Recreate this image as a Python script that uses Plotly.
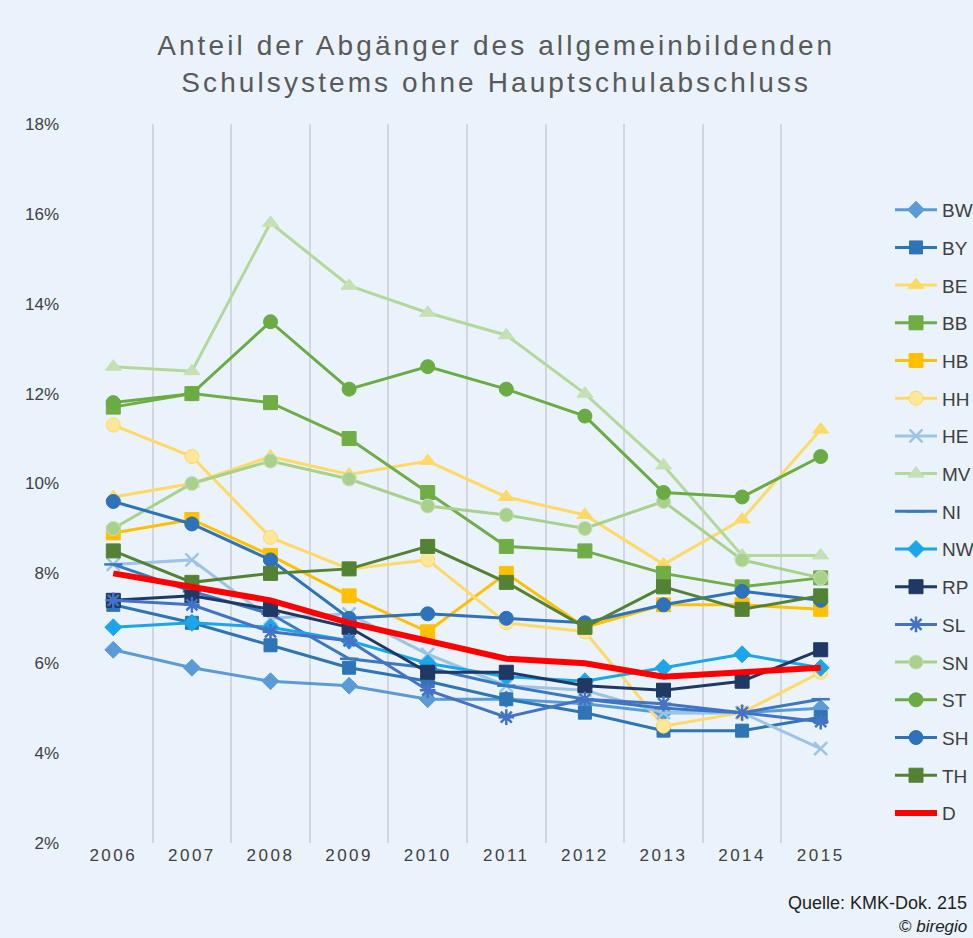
import plotly.graph_objects as go

years = ["2006", "2007", "2008", "2009", "2010", "2011", "2012", "2013", "2014", "2015"]

BW = [6.3, 5.9, 5.6, 5.5, 5.2, 5.2, 5.1, 4.9, 4.9, 5.0]
BY = [7.3, 6.9, 6.4, 5.9, 5.6, 5.2, 4.9, 4.5, 4.5, 4.8]
BE = [9.7, 10.0, 10.6, 10.2, 10.5, 9.7, 9.3, 8.2, 9.2, 11.2]
BB = [11.7, 12.0, 11.8, 11.0, 9.8, 8.6, 8.5, 8.0, 7.7, 7.9]
HB = [8.9, 9.2, 8.4, 7.5, 6.7, 8.0, 6.8, 7.3, 7.3, 7.2]
HH = [11.3, 10.6, 8.8, 8.1, 8.3, 6.9, 6.7, 4.6, 4.9, 5.8]
HE = [8.2, 8.3, 7.0, 7.1, 6.2, 5.5, 5.4, 4.9, 4.9, 4.1]
MV = [12.6, 12.5, 15.8, 14.4, 13.8, 13.3, 12.0, 10.4, 8.4, 8.4]
NI = [8.2, 7.6, 7.1, 6.1, 5.9, 5.5, 5.2, 5.0, 4.9, 5.2]
NW = [6.8, 6.9, 6.8, 6.5, 6.0, 5.7, 5.6, 5.9, 6.2, 5.9]
RP = [7.4, 7.5, 7.2, 6.8, 5.8, 5.8, 5.5, 5.4, 5.6, 6.3]
SL = [7.4, 7.3, 6.7, 6.5, 5.4, 4.8, 5.2, 5.1, 4.9, 4.7]
SN = [9.0, 10.0, 10.5, 10.1, 9.5, 9.3, 9.0, 9.6, 8.3, 7.9]
ST = [11.8, 12.0, 13.6, 12.1, 12.6, 12.1, 11.5, 9.8, 9.7, 10.6]
SH = [9.6, 9.1, 8.3, 7.0, 7.1, 7.0, 6.9, 7.3, 7.6, 7.4]
TH = [8.5, 7.8, 8.0, 8.1, 8.6, 7.8, 6.8, 7.7, 7.2, 7.5]
D = [8.0, 7.7, 7.4, 6.9, 6.5, 6.1, 6.0, 5.7, 5.8, 5.9]

y_ticks = [2, 4, 6, 8, 10, 12, 14, 16, 18]
y_tick_labels = ["2%", "4%", "6%", "8%", "10%", "12%", "14%", "16%", "18%"]

series = [
    # name, values, line colour, marker symbol, marker fill, marker line colour, marker size
    ("BW", BW, "#5B9BD5", "diamond", "#5B9BD5", "#5B9BD5", 13),
    ("BY", BY, "#2E75B6", "square", "#2E75B6", "#2E75B6", 13),
    ("BE", BE, "#FFD966", "triangle-up", "#FFD966", "#FFD966", 14),
    ("BB", BB, "#70AD47", "square", "#70AD47", "#70AD47", 14),
    ("HB", HB, "#FFC000", "square", "#FFC000", "#FFC000", 14),
    ("HH", HH, "#FFD966", "circle", "#FFE699", "#FFD966", 14),
    ("HE", HE, "#9DC3E6", "x-thin", "#9DC3E6", "#9DC3E6", 13),
    ("MV", MV, "#B4D89C", "triangle-up", "#C5E0B4", "#C5E0B4", 14),
    ("NI", NI, "#3A78C0", "line-ew", "#3A78C0", "#3A78C0", 13),
    ("NW", NW, "#1BA6EA", "diamond", "#1BA6EA", "#1BA6EA", 13),
    ("RP", RP, "#1F3864", "square", "#1F3864", "#1F3864", 14),
    ("SL", SL, "#4472C4", "asterisk", "#4472C4", "#4472C4", 13),
    ("SN", SN, "#A9D18E", "circle", "#A9D18E", "#C5E0B4", 14),
    ("ST", ST, "#6AAB44", "circle", "#6AAB44", "#6AAB44", 14),
    ("SH", SH, "#2E72BA", "circle", "#2E72BA", "#2E72BA", 14),
    ("TH", TH, "#548235", "square", "#548235", "#548235", 14),
]

fig = go.Figure()
for name, vals, lc, sym, fill, mlc, ms in series:
    open_sym = sym in ("x-thin", "line-ew", "asterisk")
    fig.add_trace(go.Scatter(
        x=years, y=vals, name=name, legendgroup=name, mode="lines+markers",
        line=dict(color=lc, width=3),
        marker=dict(symbol=sym, size=ms, color=fill,
                    line=dict(color=mlc, width=2.5 if open_sym else 1)),
    ))
fig.add_trace(go.Scatter(
    x=years, y=D, name="D", legendgroup="D", mode="lines",
    line=dict(color="#FF0000", width=6),
))

bg = "#EAF3FB"
fig.update_layout(
    width=973, height=938,
    paper_bgcolor=bg, plot_bgcolor=bg,
    margin=dict(l=74, r=113, t=124, b=95, autoexpand=False),
    font=dict(family="Liberation Sans, Arial, sans-serif", color="#404040"),
    title=dict(
        text="Anteil der Abgänger des allgemeinbildenden<br>Schulsystems ohne Hauptschulabschluss",
        x=0.51, xref="container", xanchor="center",
        y=0.941, yref="container", yanchor="top",
        font=dict(size=28, color="#595959", family="Liberation Sans, Arial, sans-serif"),
    ),
    xaxis=dict(
        type="category", tickson="boundaries", showgrid=True,
        gridcolor="#D3D6DE", gridwidth=1.5, range=[-0.5, 9.5],
        ticks="", showline=False, zeroline=False,
        tickfont=dict(size=17, color="#404040"),
    ),
    yaxis=dict(
        range=[2, 18], tickvals=y_ticks, ticktext=y_tick_labels, showgrid=False,
        zeroline=False, showline=False, ticks="", ticklabelstandoff=14,
        tickfont=dict(size=17, color="#404040"),
    ),
    legend=dict(
        xref="container", x=0.9147, xanchor="left", y=0.907, yanchor="top",
        font=dict(size=19, color="#404040"),
        traceorder="grouped", tracegroupgap=10, itemwidth=42,
        bgcolor="rgba(0,0,0,0)",
    ),
    showlegend=True,
)

fig.add_annotation(
    text="Quelle: KMK-Dok. 215", xref="paper", yref="paper",
    x=1.139, y=-0.0834, xanchor="right", yanchor="middle", showarrow=False,
    font=dict(size=18, color="#222222"),
)
fig.add_annotation(
    text="© <i>biregio</i>", xref="paper", yref="paper",
    x=1.139, y=-0.1168, xanchor="right", yanchor="middle", showarrow=False,
    font=dict(size=17, color="#222222"),
)

post = """
document.body.style.margin='0';
document.querySelectorAll('.gtitle').forEach(function(e){e.style.letterSpacing='3.1px';});
document.querySelectorAll('.xtick text').forEach(function(e){e.style.letterSpacing='2.5px';});
"""
fig.write_html("out.html", post_script=post, config={"displayModeBar": False})
